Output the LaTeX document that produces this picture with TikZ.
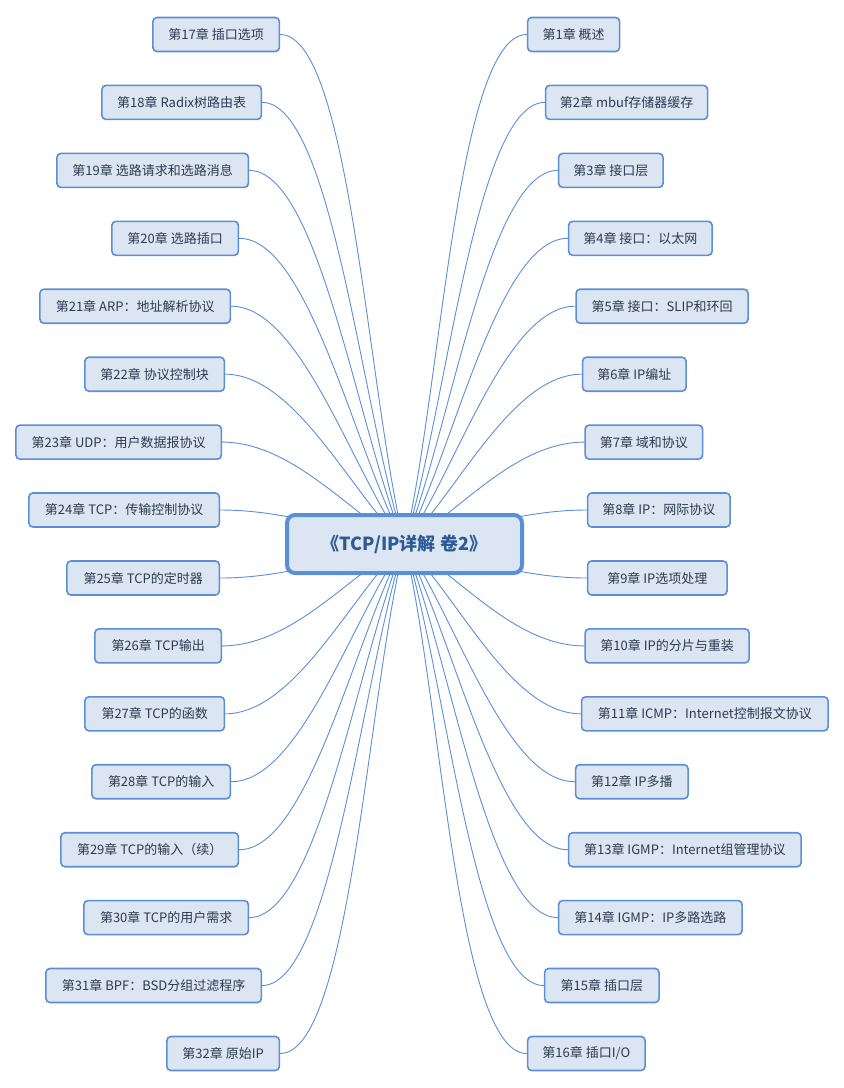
\documentclass[tikz,border=0pt]{standalone}
\usepackage{fontspec}
\setmainfont{Noto Sans CJK SC}
\usetikzlibrary{calc,backgrounds}
\definecolor{boxfill}{HTML}{DCE6F2}
\definecolor{boxline}{HTML}{5A8FD5}
\definecolor{txt}{HTML}{2C3A50}
\definecolor{ttl}{HTML}{2E5A94}
\definecolor{conn}{HTML}{5B8FD8}
\tikzset{
  chap/.style={draw=boxline, fill=boxfill, line width=1.6pt, rounded corners=4pt,
    minimum height=34pt, inner sep=0pt, text=txt, font=\fontsize{13}{15}\selectfont},
  lch/.style={chap, anchor=east, minimum width=#1},
  rch/.style={chap, anchor=west, minimum width=#1},
  link/.style={draw=conn, line width=0.9pt},
  central/.style={draw=boxline, fill=boxfill, line width=4pt, rounded corners=8pt,
    minimum width=235pt, minimum height=58pt, inner sep=0pt, text=ttl,
    font=\fontsize{18}{20}\selectfont\bfseries},
}
\begin{document}
\begin{tikzpicture}[x=1pt,y=-1pt]
\useasboundingbox (0,0) rectangle (844,1088);
\node[central] (c) at (404.5,544) {《TCP/IP详解 卷2》};
% right column
\node[rch=92pt]    (r1)  at (526.8,34.5)   {第1章 概述};
\node[rch=162pt]   (r2)  at (544.8,102.4)  {第2章 mbuf存储器缓存};
\node[rch=104.5pt] (r3)  at (557.8,170.4)  {第3章 接口层};
\node[rch=143.5pt] (r4)  at (567.8,238.3)  {第4章 接口：以太网};
\node[rch=172pt]   (r5)  at (575.3,306.2)  {第5章 接口：SLIP和环回};
\node[rch=103.5pt] (r6)  at (581.8,374.2)  {第6章 IP编址};
\node[rch=117.5pt] (r7)  at (584.3,442.1)  {第7章 域和协议};
\node[rch=142.5pt] (r8)  at (586.8,510.0)  {第8章 IP：网际协议};
\node[rch=139.5pt] (r9)  at (586.8,578.0)  {第9章 IP选项处理};
\node[rch=164pt]   (r10) at (584.3,645.9)  {第10章 IP的分片与重装};
\node[rch=246.5pt] (r11) at (580.8,713.8)  {第11章 ICMP：Internet控制报文协议};
\node[rch=112.5pt] (r12) at (574.8,781.7)  {第12章 IP多播};
\node[rch=232.5pt] (r13) at (567.8,849.7)  {第13章 IGMP：Internet组管理协议};
\node[rch=183.5pt] (r14) at (557.8,917.6)  {第14章 IGMP：IP多路选路};
\node[rch=114.5pt] (r15) at (543.8,985.5)  {第15章 插口层};
\node[rch=117.5pt] (r16) at (526.8,1053.5) {第16章 插口I/O};
% left column
\node[lch=126.5pt] (l17) at (280.2,34.5)   {第17章 插口选项};
\node[lch=159.5pt] (l18) at (262.2,102.4)  {第18章 Radix树路由表};
\node[lch=191.5pt] (l19) at (249.2,170.4)  {第19章 选路请求和选路消息};
\node[lch=126.5pt] (l20) at (239.2,238.3)  {第20章 选路插口};
\node[lch=190.5pt] (l21) at (231.2,306.2)  {第21章 ARP：地址解析协议};
\node[lch=139.5pt] (l22) at (225.2,374.2)  {第22章 协议控制块};
\node[lch=205.5pt] (l23) at (222.2,442.1)  {第23章 UDP：用户数据报协议};
\node[lch=190.5pt] (l24) at (220.2,510.0)  {第24章 TCP：传输控制协议};
\node[lch=152.5pt] (l25) at (220.2,578.0)  {第25章 TCP的定时器};
\node[lch=126.5pt] (l26) at (222.2,645.9)  {第26章 TCP输出};
\node[lch=139.5pt] (l27) at (225.2,713.8)  {第27章 TCP的函数};
\node[lch=138.5pt] (l28) at (231.2,781.7)  {第28章 TCP的输入};
\node[lch=177.5pt] (l29) at (239.2,849.7)  {第29章 TCP的输入（续）};
\node[lch=164.5pt] (l30) at (249.2,917.6)  {第30章 TCP的用户需求};
\node[lch=215.5pt] (l31) at (262.2,985.5)  {第31章 BPF：BSD分组过滤程序};
\node[lch=112.5pt] (l32) at (280.2,1053.5) {第32章 原始IP};
\begin{scope}[on background layer]
\foreach \n in {r1,r2,r3,r4,r5,r6,r7,r8,r9,r10,r11,r12,r13,r14,r15,r16}
  \draw[link] (c.center) .. controls ($(c.center)!0.3!(\n.west)$) and ($(\n.west)+(-70,0)$) .. (\n.west);
\foreach \n in {l17,l18,l19,l20,l21,l22,l23,l24,l25,l26,l27,l28,l29,l30,l31,l32}
  \draw[link] (c.center) .. controls ($(c.center)!0.3!(\n.east)$) and ($(\n.east)+(70,0)$) .. (\n.east);
\end{scope}
\end{tikzpicture}
\end{document}
